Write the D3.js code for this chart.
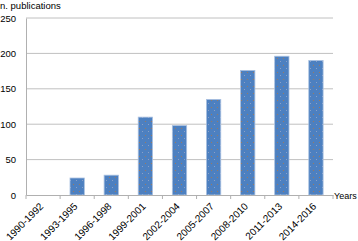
<!DOCTYPE html>
<html lang="en">
<head>
<meta charset="utf-8">
<script src="https://cdn.jsdelivr.net/npm/d3@7"></script>
<style>
  body { margin: 0; background: #fff; }
  svg text { font-family: "Liberation Sans", Arial, sans-serif; fill: #000; }
</style>
</head>
<body>
<div id="chart"></div>
<script>
  var periods = ["1990-1992", "1993-1995", "1996-1998", "1999-2001", "2002-2004",
                 "2005-2007", "2008-2010", "2011-2013", "2014-2016"];
  var publications = [0, 24, 28, 110, 98, 135, 176, 196, 190];
  var yTicks = [0, 50, 100, 150, 200, 250];

  var w = 358, h = 241;
  var plotLeft = 26, plotRight = 333, plotTop = 18, plotBottom = 195;

  var svg = d3.select("#chart").append("svg")
      .attr("width", w)
      .attr("height", h);

  // dotted texture like the original bars
  var pat = svg.append("defs").append("pattern")
      .attr("id", "dots")
      .attr("width", 6).attr("height", 7)
      .attr("patternUnits", "userSpaceOnUse");
  pat.append("rect").attr("width", 6).attr("height", 7).attr("fill", "#4d80c0");
  pat.append("rect").attr("x", 1).attr("y", 2).attr("width", 1).attr("height", 1).attr("fill", "#9a7a60");
  pat.append("rect").attr("x", 4).attr("y", 5).attr("width", 1).attr("height", 1).attr("fill", "#8aa0c8");

  var xScale = d3.scaleBand()
      .domain(periods)
      .range([plotLeft, plotRight])
      .paddingInner(0.58)
      .paddingOuter(0.29);

  var yScale = d3.scaleLinear()
      .domain([0, 250])
      .range([plotBottom, plotTop]);

  // gridlines
  svg.append("g")
      .selectAll("line")
      .data(yTicks.filter(function (d) { return d > 0; }))
      .enter()
      .append("line")
      .attr("x1", plotLeft).attr("x2", plotRight)
      .attr("y1", function (d) { return yScale(d); })
      .attr("y2", function (d) { return yScale(d); })
      .attr("stroke", "#c0c0c0")
      .attr("stroke-width", 1);

  // y axis
  var yAxis = d3.axisLeft(yScale).tickValues(yTicks).tickSize(0).tickPadding(10);
  var gy = svg.append("g")
      .attr("transform", "translate(" + plotLeft + ",0)")
      .call(yAxis);
  gy.select(".domain").attr("stroke", "#b0b0b0");
  gy.selectAll("text").style("font-size", "9.5px");

  // bars
  svg.selectAll("rect.bar")
      .data(periods)
      .enter()
      .append("rect")
      .attr("class", "bar")
      .attr("x", function (d) { return xScale(d); })
      .attr("y", function (d, i) { return yScale(publications[i]); })
      .attr("width", xScale.bandwidth())
      .attr("height", function (d, i) { return plotBottom - yScale(publications[i]); })
      .attr("fill", "url(#dots)")
      .attr("stroke", "#a9c0e0")
      .attr("stroke-width", 0.8);

  // x axis
  var step = xScale.step();
  var xAxis = d3.axisBottom(xScale).tickSize(0).tickPadding(0);
  var gx = svg.append("g")
      .attr("transform", "translate(0," + plotBottom + ")")
      .call(xAxis);
  gx.select(".domain").attr("stroke", "#b0b0b0");
  gx.selectAll(".tick text")
      .style("font-size", "10px")
      .attr("text-anchor", "end")
      .attr("dy", null)
      .attr("transform", "translate(1,12) rotate(-45)");
  // boundary tick marks between categories
  gx.append("g")
      .selectAll("line")
      .data(d3.range(periods.length + 1))
      .enter()
      .append("line")
      .attr("x1", function (i) { return plotLeft + i * step; })
      .attr("x2", function (i) { return plotLeft + i * step; })
      .attr("y1", 0).attr("y2", 4)
      .attr("stroke", "#b0b0b0");

  svg.append("text")
      .attr("x", 0).attr("y", 9)
      .style("font-size", "9.5px")
      .text("n. publications");

  svg.append("text")
      .attr("x", 334).attr("y", 199)
      .style("font-size", "9px")
      .text("Years");
</script>
</body>
</html>
